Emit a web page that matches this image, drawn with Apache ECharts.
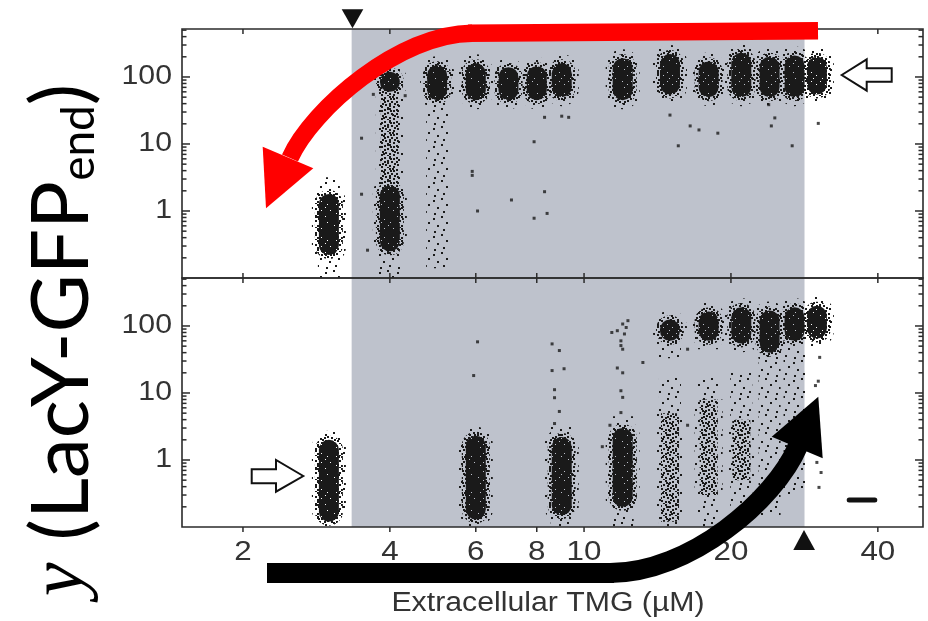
<!DOCTYPE html>
<html><head><meta charset="utf-8">
<script src="https://cdn.jsdelivr.net/npm/echarts@6/dist/echarts.min.js"></script>
<style>html,body{margin:0;padding:0;background:#fff}#c{width:928px;height:621px}</style>
</head><body><div id="c"></div>
<script>
// ---------------- data ----------------
const xTickValues = [2, 4, 6, 8, 10, 20, 40];
const xTickLabels = ['2', '4', '6', '8', '10', '20', '40'];
const yTickValues = [1, 10, 100];
const yTickLabels = ['1', '10', '100'];
const yMinorTickValues = [0.2,0.3,0.4,0.5,0.6,0.7,0.8,0.9,2,3,4,5,6,7,8,9,20,30,40,50,60,70,80,90,200,300,400,500];
const xRange = [1.5, 49.5];
const yRange = [0.1, 520];
const bistableRange = [3.34, 28.3];
const xAxisTitle = 'Extracellular TMG (µM)';

// top panel (cells started induced): [TMG µM, low, high] of LacY-GFP
const topDense = [
  [3, 0.22, 1.8], [4, 0.25, 2.4], [4, 60, 120], [5, 45, 150], [6, 45, 160], [7, 45, 140],
  [8, 45, 145], [9, 50, 160], [12, 45, 190], [15, 55, 220], [18, 50, 170], [21, 50, 230],
  [24, 50, 200], [27, 50, 210], [30, 55, 200]
];
const topMid = [[4, 2.4, 60]];
const topSparse = [[3, 0.1, 3.2], [4, 0.1, 0.25], [5, 0.14, 40]];
const topStray = [
  [3.5, 12.2], [3.5, 1.78], [3.6, 0.26], [3.7, 55], [4.3, 52.6], [5.9, 3.9], [5.9, 3.4], [6.05, 1.0],
  [7.1, 1.46], [7.9, 10.8], [7.9, 0.78], [8.4, 0.92], [8.3, 1.94], [8.3, 25], [9.0, 26], [9.3, 25],
  [15.0, 27], [15.6, 9.4], [16.5, 18.6], [17.2, 16.2], [18.8, 14.5], [23.9, 38.6], [24.6, 24.5],
  [24.2, 18.6], [26.7, 9.4], [30.2, 20.3]
];

// bottom panel (cells started uninduced)
const botDense = [
  [3, 0.12, 2.0], [6, 0.13, 2.3], [9, 0.15, 2.2], [12, 0.2, 3.0], [15, 60, 125], [18, 60, 165],
  [21, 55, 190], [24, 40, 170], [27, 60, 190], [30, 65, 200]
];
const botMid = [[15, 0.12, 5], [18, 0.3, 8], [21, 0.5, 4]];
const botSparse = [
  [3, 0.1, 2.5], [6, 0.1, 2.9], [9, 0.1, 3.2], [12, 0.1, 4.5], [15, 0.1, 17], [15, 33, 60],
  [18, 0.1, 17], [18, 45, 60], [21, 0.12, 20], [21, 45, 55], [24, 0.15, 40], [27, 0.3, 60]
];
const botStray = [
  [6.05, 58], [5.94, 18.2], [8.6, 54], [8.9, 43], [8.6, 21.6], [9.1, 23], [8.7, 11.2], [8.7, 8.5],
  [8.9, 5.3], [8.7, 3.5], [11.4, 80], [12.0, 107], [12.3, 120], [11.9, 60], [12.0, 45], [12.2, 95],
  [11.7, 85], [12.1, 76], [11.9, 51], [11.7, 23.6], [12.0, 20], [11.9, 10.8], [12.0, 8.6], [11.9, 5.1],
  [11.3, 3.3], [10.9, 1.58], [13.2, 28.5], [16.3, 45], [16.3, 3.3], [30.4, 34], [30.2, 15], [29.8, 12.9],
  [30.0, 0.92], [30.6, 0.65], [30.3, 0.39]
];

// ---------------- styles ----------------
const INK = '#1a1a1a';
const AXIS = '#2b2b2b';
const GRAY = '#bec2cc';
function makePattern(size, solid, spots) {
  const c = document.createElement('canvas');
  c.width = size; c.height = size;
  const g = c.getContext('2d');
  g.fillStyle = INK;
  if (solid) {
    g.fillRect(0, 0, size, size);
    spots.forEach(p => g.clearRect(p[0], p[1], 1, 1));
  } else {
    spots.forEach(p => g.fillRect(p[0], p[1], 2, 2));
  }
  return { image: c, repeat: 'repeat' };
}
const densePat = makePattern(9, true, [[1,0],[6,3],[3,6]]);
const midPat = makePattern(12, false, [[0,1],[5,0],[9,2],[3,4],[7,5],[10,7],[1,8],[5,9],[9,10],[3,11],[6,2],[0,5]]);
const sparsePat = makePattern(18, false, [[1,2],[9,0],[14,6],[5,9],[11,13],[2,15]]);

// layer recipes: [pattern, width px, capsule, pad px]
const denseLayers = [[sparsePat, 34, true, 9], [midPat, 28, true, 4], [densePat, 20, true, 0]];
const midLayers = [[sparsePat, 28, false, 0], [midPat, 18, false, 0]];
const sparseLayers = [[sparsePat, 22, false, 0]];

function cloudSeries(gi, data, layers, z) {
  return {
    type: 'custom', xAxisIndex: gi, yAxisIndex: gi, silent: true, animation: false, z: z,
    data: data,
    renderItem: function (params, api) {
      const cs = params.coordSys;
      const a = api.coord([api.value(0), api.value(2)]);
      const b = api.coord([api.value(0), api.value(1)]);
      const children = layers.map(function (ly) {
        const w = ly[1], pad = ly[3];
        const y1 = Math.max(a[1] - pad, cs.y);
        const y2 = Math.min(b[1] + pad, cs.y + cs.height);
        const h = y2 - y1;
        return {
          type: 'rect',
          shape: { x: a[0] - w / 2, y: y1, width: w, height: h, r: ly[2] ? Math.min(w / 2, h / 2) : 0 },
          style: { fill: ly[0] }
        };
      });
      return { type: 'group', children: children };
    }
  };
}
function straySeries(gi, data) {
  return {
    type: 'scatter', xAxisIndex: gi, yAxisIndex: gi, silent: true, animation: false, z: 5,
    symbol: 'rect', symbolSize: 3, itemStyle: { color: INK }, data: data
  };
}
function shadeSeries(gi) {
  return {
    type: 'custom', xAxisIndex: gi, yAxisIndex: gi, silent: true, animation: false, z: 1,
    data: [bistableRange],
    renderItem: function (params, api) {
      const a = api.coord([api.value(0), yRange[1]]);
      const b = api.coord([api.value(1), yRange[0]]);
      return { type: 'rect', shape: { x: a[0], y: a[1], width: b[0] - a[0], height: b[1] - a[1] }, style: { fill: GRAY } };
    }
  };
}
function frameSeries(gi, isBottom) {
  return {
    type: 'custom', xAxisIndex: gi, yAxisIndex: gi, silent: true, animation: false, z: 8,
    data: [[2, 1]],
    renderItem: function (params, api) {
      const cs = params.coordSys;
      const L = cs.x, R = cs.x + cs.width, T = cs.y, B = cs.y + cs.height;
      const lineStyle = { stroke: AXIS, lineWidth: 1.5 };
      const ch = [{ type: 'rect', shape: { x: L, y: T, width: cs.width, height: cs.height }, style: { fill: null, stroke: AXIS, lineWidth: 1.6 } }];
      const ln = (x1, y1, x2, y2) => ch.push({ type: 'line', shape: { x1, y1, x2, y2 }, style: lineStyle });
      xTickValues.forEach((v, i) => {
        const px = api.coord([v, yRange[0]])[0];
        ln(px, T, px, T + 5);
        if (isBottom) {
          ln(px, B, px, B + 5);
          ch.push({ type: 'text', x: px, y: B + 25, scaleX: 1.12,
            style: { text: xTickLabels[i], align: 'center', verticalAlign: 'middle', fontSize: 28, fontFamily: 'Liberation Sans', fill: '#333' } });
        } else {
          ln(px, B, px, B - 5);
        }
      });
      yTickValues.forEach((v, i) => {
        const py = api.coord([xRange[0], v])[1];
        ln(L, py, L + 8, py); ln(R, py, R - 8, py);
        ch.push({ type: 'text', x: L - 10, y: py, scaleX: 1.12,
          style: { text: yTickLabels[i], align: 'right', verticalAlign: 'middle', fontSize: 27, fontFamily: 'Liberation Sans', fill: '#333' } });
      });
      yMinorTickValues.forEach(v => {
        const py = api.coord([xRange[0], v])[1];
        if (py < T + 1 || py > B - 1) return;
        ln(L, py, L + 4.5, py); ln(R, py, R - 4.5, py);
      });
      return { type: 'group', children: ch };
    }
  };
}

const grids = [
  { left: 182, top: 29, width: 741, height: 249 },
  { left: 182, top: 278, width: 741, height: 249 }
];
const axisX = gi => ({ type: 'log', logBase: 10, gridIndex: gi, min: xRange[0], max: xRange[1], show: false });
const axisY = gi => ({ type: 'log', logBase: 10, gridIndex: gi, min: yRange[0], max: yRange[1], show: false });

const series = [
  shadeSeries(0), shadeSeries(1),
  cloudSeries(0, topSparse, sparseLayers, 2),
  cloudSeries(0, topMid, midLayers, 2),
  cloudSeries(0, topDense, denseLayers, 3),
  straySeries(0, topStray),
  cloudSeries(1, botSparse, sparseLayers, 2),
  cloudSeries(1, botMid, midLayers, 2),
  cloudSeries(1, botDense, denseLayers, 3),
  straySeries(1, botStray),
  frameSeries(0, false), frameSeries(1, true)
];

const graphic = [
  // y-axis title
  { type: 'text', x: 62, y: 340, rotation: Math.PI / 2, z: 100,
    style: { text: '{m|y}{t|(LacY-GFP}{s|end}{t|)}', align: 'center', verticalAlign: 'middle',
      rich: {
        m: { fontFamily: 'Liberation Serif', fontStyle: 'italic', fontSize: 76, fill: '#000', padding: [0, 22, 0, 0] },
        t: { fontFamily: 'Lato', fontSize: 80, fill: '#000' },
        s: { fontFamily: 'Lato', fontSize: 46, fill: '#000', verticalAlign: 'bottom' }
      } } },
  // x-axis title
  { type: 'text', x: 548, y: 604, scaleX: 1.12, z: 100,
    style: { text: xAxisTitle, align: 'center', verticalAlign: 'middle', fontSize: 27, fontFamily: 'Liberation Sans', fill: '#333' } },
  // triangles marking the bistable range
  { type: 'polygon', z: 100, shape: { points: [[341.7, 9.3], [363.3, 9.3], [352.5, 28.3]] }, style: { fill: '#111' } },
  { type: 'polygon', z: 100, shape: { points: [[793.3, 550], [815, 550], [804, 530]] }, style: { fill: '#111' } },
  // red arrow (history from induced)
  { type: 'line', z: 100, shape: { x1: 818, y1: 30.8, x2: 468, y2: 33.3 }, style: { stroke: '#ff0000', lineWidth: 17.5, lineCap: 'butt' } },
  { type: 'bezierCurve', z: 100, shape: { x1: 472, y1: 33.2, cpx1: 400, cpy1: 33.5, cpx2: 312, cpy2: 109, x2: 290, y2: 158 },
    style: { stroke: '#ff0000', lineWidth: 17.5, fill: null, lineCap: 'butt' } },
  { type: 'polygon', z: 100, shape: { points: [[262.7, 146.7], [313.3, 168.3], [266, 208.3]] }, style: { fill: '#ff0000' } },
  // black arrow (history from uninduced)
  { type: 'line', z: 100, shape: { x1: 267, y1: 573, x2: 614, y2: 573 }, style: { stroke: '#000', lineWidth: 20, lineCap: 'butt' } },
  { type: 'bezierCurve', z: 100, shape: { x1: 610, y1: 573, cpx1: 690, cpy1: 573, cpx2: 775, cpy2: 500, x2: 798, y2: 446 },
    style: { stroke: '#000', lineWidth: 20, fill: null, lineCap: 'butt' } },
  { type: 'polygon', z: 100, shape: { points: [[771.7, 436.7], [822.7, 458.3], [818.3, 396.7]] }, style: { fill: '#000' } },
  // open arrows
  { type: 'polygon', z: 100, shape: { points: [[841.7, 75], [866.7, 59.3], [866.7, 68.3], [891.7, 68.3], [891.7, 81.7], [866.7, 81.7], [866.7, 90.7]] },
    style: { fill: '#fff', stroke: '#111', lineWidth: 2 } },
  { type: 'polygon', z: 100, shape: { points: [[303.3, 476], [276, 460], [276, 469.3], [251.7, 469.3], [251.7, 483.3], [276, 483.3], [276, 491.7]] },
    style: { fill: '#fff', stroke: '#111', lineWidth: 2 } },
  // scale bar
  { type: 'rect', z: 100, shape: { x: 846.7, y: 497.5, width: 30.6, height: 5, r: 2.5 }, style: { fill: '#111' } }
];

const chart = echarts.init(document.getElementById('c'), null, { renderer: 'canvas' });
chart.setOption({
  animation: false,
  backgroundColor: '#fff',
  grid: grids,
  xAxis: [axisX(0), axisX(1)],
  yAxis: [axisY(0), axisY(1)],
  series: series,
  graphic: graphic
});
</script></body></html>
